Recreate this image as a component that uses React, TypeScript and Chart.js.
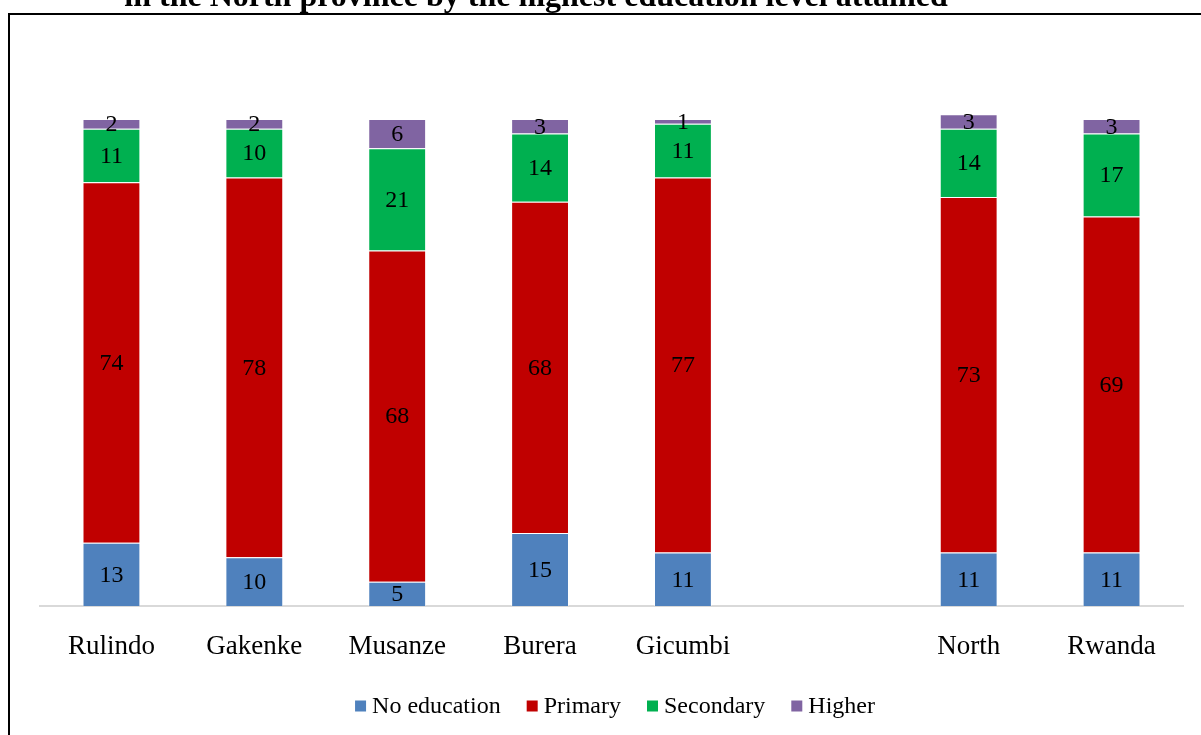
import React, { useEffect, useRef } from "react";
import { Chart, registerables } from "chart.js";

Chart.register(...registerables);

const titleText = "in the North province by the highest education level attained";
const categories = ["Rulindo", "Gakenke", "Musanze", "Burera", "Gicumbi", "", "North", "Rwanda"];
const seriesNames = ["No education", "Primary", "Secondary", "Higher"];
const seriesColors = ["#4f81bd", "#c00000", "#00b050", "#8064a2"];
const noEducation = [13, 10, 5, 15, 11, null, 11, 11];
const primary = [74, 78, 68, 68, 77, null, 73, 69];
const secondary = [11, 10, 21, 14, 11, null, 14, 17];
const higher = [2, 2, 6, 3, 1, null, 3, 3];

const W = 1201;
const H = 735;
const SERIF = '"Liberation Serif", "Times New Roman", serif';

const framePlugin = {
  id: "frame",
  beforeDraw(chart: any) {
    const ctx = chart.ctx;
    ctx.save();
    ctx.fillStyle = "#ffffff";
    ctx.fillRect(0, 0, W, H);
    ctx.strokeStyle = "#000000";
    ctx.lineWidth = 2;
    ctx.strokeRect(9, 14, W + 10, H + 10);
    ctx.fillStyle = "#000000";
    ctx.font = "bold 32px " + SERIF;
    ctx.textAlign = "center";
    ctx.textBaseline = "alphabetic";
    ctx.fillText(titleText, 536, 6);
    ctx.restore();
  },
  afterDatasetsDraw(chart: any) {
    const ctx = chart.ctx;
    ctx.save();
    ctx.fillStyle = "#000000";
    ctx.font = "24px " + SERIF;
    ctx.textAlign = "center";
    ctx.textBaseline = "middle";
    chart.data.datasets.forEach((ds: any, di: number) => {
      const meta = chart.getDatasetMeta(di);
      meta.data.forEach((el: any, i: number) => {
        const v = ds.data[i];
        if (v === null || v === undefined) return;
        ctx.fillText(String(v), el.x, (el.y + el.base) / 2 + 1);
      });
    });
    // legend
    ctx.font = "24px " + SERIF;
    ctx.textBaseline = "middle";
    ctx.textAlign = "left";
    const box = 11;
    const gapBoxText = 6;
    const gapItems = 26;
    const widths = seriesNames.map((n) => ctx.measureText(n).width);
    const total = widths.reduce((a, w) => a + box + gapBoxText + w, 0) + gapItems * (seriesNames.length - 1);
    let x = 615 - total / 2;
    const y = 706;
    seriesNames.forEach((n, i) => {
      ctx.fillStyle = seriesColors[i];
      ctx.fillRect(x, y - box / 2, box, box);
      x += box + gapBoxText;
      ctx.fillStyle = "#000000";
      ctx.fillText(n, x, y + 1);
      x += widths[i] + gapItems;
    });
    ctx.restore();
  },
};

export default function App() {
  const ref = useRef<HTMLCanvasElement | null>(null);
  useEffect(() => {
    if (!ref.current) return;
    const seriesData = [noEducation, primary, secondary, higher];
    const chart = new Chart(ref.current, {
      type: "bar",
      data: {
        labels: categories,
        datasets: seriesNames.map((name, i) => ({
          label: name,
          data: seriesData[i],
          backgroundColor: seriesColors[i],
          borderColor: "rgba(255,255,255,0.45)",
          borderWidth: 1,
          barPercentage: 0.405,
          categoryPercentage: 1,
          clip: false,
        })),
      },
      options: {
        animation: false,
        responsive: false,
        devicePixelRatio: 1,
        layout: { padding: { left: 40, right: 18, top: 119, bottom: 0 } },
        plugins: {
          legend: { display: false },
          title: { display: false },
          tooltip: { enabled: false },
        },
        scales: {
          x: {
            stacked: true,
            grid: { display: false },
            border: { display: true, color: "#d9d9d9", width: 2 },
            ticks: {
              color: "#000000",
              font: { family: SERIF, size: 27 },
              padding: 17,
              maxRotation: 0,
              autoSkip: false,
            },
            afterFit: (scale: any) => {
              scale.height = H - 606;
            },
          },
          y: {
            stacked: true,
            display: false,
            min: 0,
            max: 100,
          },
        },
      },
      plugins: [framePlugin],
    });
    return () => chart.destroy();
  }, []);
  return (
    <div style={{ position: "absolute", left: 0, top: 0, width: W, height: H, background: "#fff" }}>
      <canvas ref={ref} width={W} height={H} style={{ display: "block", width: W, height: H }} />
    </div>
  );
}
